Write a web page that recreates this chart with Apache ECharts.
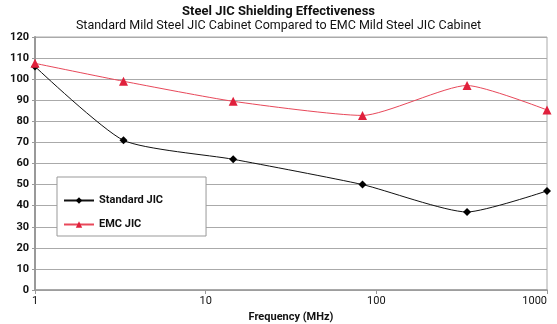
<!DOCTYPE html>
<html>
<head>
<meta charset="utf-8">
<script src="https://cdn.jsdelivr.net/npm/echarts@6/dist/echarts.min.js"></script>
<style>
  html, body { margin: 0; padding: 0; background: #fff; }
  #chart { width: 557px; height: 324px; }
</style>
</head>
<body>
<div id="chart"></div>
<script>
// Measurement frequencies (MHz)
const frequencies = [1, 3.3, 14.5, 83, 340, 1000];
// Attenuation in dB for each cabinet type
const standardJIC = [106, 71, 62, 50, 37, 47];
const emcJIC = [107.5, 99, 89.5, 82.8, 97, 85.4];
// Axis tick labels
const yTicks = [0, 10, 20, 30, 40, 50, 60, 70, 80, 90, 100, 110, 120];
const xTicks = [1, 10, 100, 1000];

const FONT = 'Roboto';
const toPairs = (ys) => frequencies.map((f, i) => [f, ys[i]]);

const chart = echarts.init(document.getElementById('chart'), null, { renderer: 'canvas' });
chart.setOption({
  animation: false,
  backgroundColor: '#fff',
  title: [
    {
      text: 'Steel JIC Shielding Effectiveness',
      left: 'center', top: 0,
      textStyle: { fontFamily: FONT, fontSize: 13, fontWeight: 'bold', color: '#111' }
    },
    {
      text: 'Standard Mild Steel JIC Cabinet Compared to EMC Mild Steel JIC Cabinet',
      left: 'center', top: 14,
      textStyle: { fontFamily: FONT, fontSize: 12.5, fontWeight: 'normal', color: '#111' }
    }
  ],
  grid: {
    left: 35, right: 10, top: 37, bottom: 34,
    containLabel: false, outerBoundsMode: 'none',
    show: true, borderColor: '#aaa', borderWidth: 1, backgroundColor: 'transparent'
  },
  legend: {
    left: 57, top: 177,
    orient: 'vertical',
    padding: [18, 43, 6, 6],
    itemGap: 13,
    itemWidth: 30, itemHeight: 8,
    backgroundColor: '#fff',
    borderColor: '#999', borderWidth: 1,
    textStyle: { fontFamily: FONT, fontSize: 11, fontWeight: 'bold', color: '#111' },
    data: ['Standard JIC', 'EMC JIC']
  },
  xAxis: {
    type: 'log', logBase: 10, min: 1, max: 1000,
    name: 'Frequency (MHz)', nameLocation: 'middle', nameGap: 22,
    nameTextStyle: { fontFamily: FONT, fontSize: 11, fontWeight: 'bold', color: '#111' },
    axisLine: { show: true, lineStyle: { color: '#999', width: 1.5 } },
    axisTick: { show: true, length: 4, lineStyle: { color: '#999' } },
    splitLine: { show: false },
    axisLabel: {
      fontFamily: FONT, fontSize: 11, color: '#111', margin: 6,
      alignMaxLabel: 'right',
      formatter: (v) => xTicks.includes(Math.round(v)) ? String(Math.round(v)) : ''
    }
  },
  yAxis: {
    type: 'value', min: 0, max: 120, interval: 10,
    name: 'Attenuation (dB)', nameLocation: 'middle', nameGap: 26, nameRotate: 90,
    nameTextStyle: { fontFamily: FONT, fontSize: 11, fontWeight: 'bold', color: '#111' },
    axisLine: { show: true, lineStyle: { color: '#999', width: 2 } },
    axisTick: { show: true, length: 3, lineStyle: { color: '#999' } },
    splitLine: { show: true, lineStyle: { color: '#aaa', width: 1 } },
    axisLabel: {
      fontFamily: FONT, fontSize: 11, fontWeight: 'bold', color: '#111', margin: 6,
      formatter: (v) => yTicks.includes(v) ? String(v) : ''
    }
  },
  series: [
    {
      name: 'Standard JIC', type: 'line',
      data: toPairs(standardJIC),
      smooth: 0.2,
      symbol: 'diamond', symbolSize: 8,
      lineStyle: { color: '#111', width: 1 },
      itemStyle: { color: '#000' }
    },
    {
      name: 'EMC JIC', type: 'line',
      data: toPairs(emcJIC),
      smooth: 0.2,
      symbol: 'triangle', symbolSize: 9,
      lineStyle: { color: '#e8485a', width: 1 },
      itemStyle: { color: '#e0203c' }
    }
  ]
});
</script>
</body>
</html>
